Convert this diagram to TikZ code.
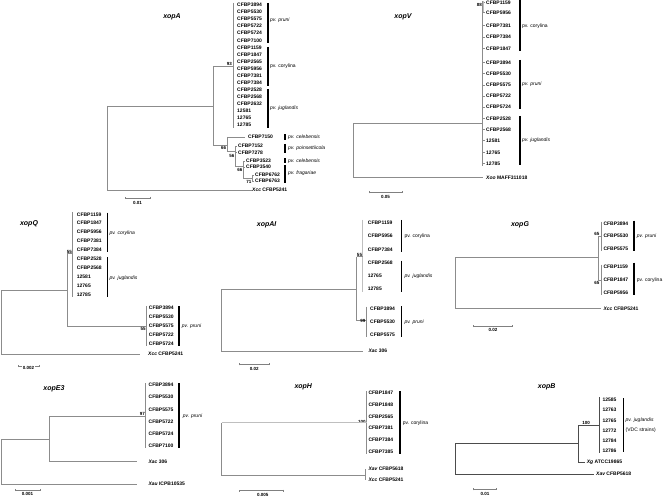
\documentclass[tikz,border=0pt]{standalone}
\usepackage{fontspec}
\setmainfont{Liberation Sans}
\usetikzlibrary{arrows.meta}
\newcommand\leafcol[5]{%
  \foreach \t [count=\i] in {#5} \node[leaf] (#1\i) at (#2, {#3+#4*(\i-1)}) {\t};}
\begin{document}
\begin{tikzpicture}[x=1pt,y=-1pt,
  br/.style={draw=black!45, line width=0.6pt},
  brd/.style={draw=black!70, line width=0.9pt},
  brl/.style={draw=black!25, line width=1.3pt},
  grp/.style={draw=black, line width=1.1pt},
  leaf/.style={anchor=west, inner sep=0pt, font=\fontsize{5}{6}\selectfont\bfseries},
  pvl/.style={anchor=west, inner sep=0pt, font=\fontsize{5}{6}\selectfont\itshape},
  pvu/.style={anchor=west, inner sep=0pt, font=\fontsize{5}{6}\selectfont},
  ttl/.style={inner sep=0pt, font=\fontsize{7}{8}\selectfont\bfseries\itshape},
  bsv/.style={inner sep=0pt, font=\fontsize{4.5}{5}\selectfont\bfseries},
  scl/.style={inner sep=0pt, font=\fontsize{4.5}{5}\selectfont\bfseries},
  sbar/.style={draw=black!50, line width=0.5pt, {Bar[width=2pt]}-{Bar[width=2pt]}}]
\useasboundingbox (0,0) rectangle (664,497);
\fill[white] (0,0) rectangle (664,497);

% ================= xopA =================
\node[ttl] (tA) at (172,17) {xopA};
\leafcol{A}{237}{5}{7.06}{CFBP3894,CFBP5530,CFBP5575,CFBP5722,CFBP5724,CFBP7100,CFBP1159,CFBP1847,CFBP2565,CFBP5956,CFBP7381,CFBP7384,CFBP2528,CFBP2568,CFBP2632,12581,12765,12785}
\coordinate (Ac) at (233,66);
\coordinate (An) at (213,106);
\coordinate (Ar) at (107,190);
\draw[br] (233,3) -- (233,128);
\draw[br] (Ac) -- (213,66) -- (213,145);
\draw[br] (Ar |- An) -- (An);
\draw[br] (Ar |- An) -- (Ar);
\node[leaf] (Axcc) at (252,190) {{\itshape Xcc} CFBP5241};
\draw[br] (Ar) -- (Axcc.west);
\node[bsv] (bA1) [anchor=south east] at (232,65.8) {93};
% lower clade
\draw[br] (213,145) -- (227,145);
\draw[br] (227,137) -- (227,151);
\node[leaf] (A7150) at (248,137) {CFBP7150};
\draw[br] (227,137) -- (245,137);
\node[bsv] (bA2) [anchor=east] at (226.3,147.5) {66};
\draw[br] (227,151) -- (235,151);
\draw[br] (235,146) -- (235,166);
\node[leaf] (A7152) at (238,146) {CFBP7152};
\node[leaf] (A7278) at (238,152.5) {CFBP7278};
\draw[br] (235,146) -- (237,146) (235,152.5) -- (237,152.5);
\node[bsv] (bA3) [anchor=east] at (234.5,155.5) {56};
\draw[br] (235,166) -- (243,166);
\draw[br] (243,161) -- (243,178);
\node[leaf] (A3523) at (246,161) {CFBP3523};
\node[leaf] (A3540) at (246,167) {CFBP3540};
\draw[br] (243,161) -- (245,161) (243,167) -- (245,167);
\node[bsv] (bA4) [anchor=east] at (242.5,169.5) {66};
\draw[br] (243,178) -- (252,178);
\draw[br] (252,175) -- (252,181);
\node[leaf] (A6762) at (255,175) {CFBP6762};
\node[leaf] (A6763) at (255,181) {CFBP6763};
\draw[br] (252,175) -- (254,175) (252,181) -- (254,181);
\node[bsv] (bA5) [anchor=east] at (251.5,181.5) {71};
% groups
\draw[grp] (268,3) -- (268,43);
\node[pvl] (gA1) at (270,20.5) {pv. pruni};
\draw[grp] (268,47) -- (268,86);
\node[pvu] (gA2) at (270,66) {pv. corylina};
\draw[grp] (268,89) -- (268,128);
\node[pvl] (gA3) at (270,108) {pv. juglandis};
\draw[grp] (285,134.5) -- (285,140.5);
\node[pvl] (gA4) at (288,137.5) {pv. celebensis};
\draw[grp] (285,144) -- (285,153);
\node[pvl] (gA5) at (288,148) {pv. poinsettiicola};
\draw[grp] (285,158.5) -- (285,163.5);
\node[pvl] (gA6) at (288,161) {pv. celebensis};
\draw[grp] (285,165.5) -- (285,183);
\node[pvl] (gA7) at (288,173) {pv. fragariae};
\draw[sbar] (125,198) -- (150,198);
\node[scl] (sA) at (137.5,202.5) {0.01};

% ================= xopV =================
\node[ttl] (tV) at (403,17) {xopV};
\foreach \t/\yy [count=\i] in {CFBP1159/2.5,CFBP5956/12.5,CFBP7381/25.3,CFBP7384/37,CFBP1847/48.7,CFBP3894/62.3,CFBP5530/73.3,CFBP5575/85,CFBP5722/96,CFBP5724/107,CFBP2528/118.3,CFBP2568/129.3,12581/140.7,12765/152.3,12785/163.7}{
  \node[leaf] (V\i) at (486,\yy) {\t};
  \draw[br] (482.7,\yy) -- (485,\yy);}
\draw[br] (482.7,1) -- (482.7,166);
\draw[brl] (483.8,1) -- (483.8,12.5);
\node[bsv] (bV1) [anchor=east] at (482,5) {88};
\coordinate (Vr) at (353.3,123.3);
\draw[br] (482.7,123.3) -- (Vr) -- (353.3,177.7) -- (483,177.7);
\node[leaf] (Vxoo) at (486,177.5) {{\itshape Xoo} MAFF311018};
\draw[grp] (520,0) -- (520,50.7);
\node[pvu] (gV1) at (522,26) {pv. corylina};
\draw[grp] (520,60) -- (520,109);
\node[pvl] (gV2) at (522,84) {pv. pruni};
\draw[grp] (520,116) -- (520,165);
\node[pvl] (gV3) at (522,140.7) {pv. juglandis};
\draw[sbar] (369,192.3) -- (402,192.3);
\node[scl] (sV) at (385.5,196.5) {0.05};

% ================= xopQ =================
\node[ttl] (tQ) at (29,224) {xopQ};
\leafcol{Q}{76.7}{214.3}{8.97}{CFBP1159,CFBP1847,CFBP5956,CFBP7381,CFBP7384,CFBP2528,CFBP2568,12581,12765,12785}
\draw[br] (72.7,212) -- (72.7,297);
\coordinate (Qn) at (67.7,253);
\draw[br] (Qn) -- (72.7,253);
\node[bsv] (bQ1) [anchor=east] at (72.2,251.5) {55};
\draw[br] (Qn) -- (67.7,326) -- (146.7,326);
\leafcol{QP}{148.7}{307.7}{9.1}{CFBP3894,CFBP5530,CFBP5575,CFBP5722,CFBP5724}
\draw[br] (146.7,306) -- (146.7,346);
\node[bsv] (bQ2) [anchor=east] at (145.8,328.5) {55};
\coordinate (Qr) at (1,290);
\draw[br] (67.7,290) -- (Qr) -- (1,354) -- (140,354);
\node[leaf] (Qxcc) at (148,354) {{\itshape Xcc} CFBP5241};
\draw[grp] (107.3,212.7) -- (107.3,251.7);
\node[pvl] (gQ1) at (109.3,233.3) {pv. corylina};
\draw[grp] (107.3,257) -- (107.3,297);
\node[pvl] (gQ2) at (109.3,278.3) {pv. juglandis};
\draw[grp] (179,306) -- (179,345.7);
\node[pvl] (gQ3) at (181.7,326) {pv. pruni};
\draw[sbar] (18,366) -- (39,366);
\node[scl, fill=white, inner xsep=0.5pt] (sQ) at (28.5,367.5) {0.002};

% ================= xopAI =================
\node[ttl] (tAI) at (266.7,225) {xopAI};
\leafcol{I}{367.7}{222.7}{13.3}{CFBP1159,CFBP5956,CFBP7384,CFBP2568,12765,12785}
\draw[brl] (362.7,220) -- (362.7,291.7);
\coordinate (In) at (356.7,289.3);
\draw[br] (356.7,256.7) -- (362.7,256.7);
\draw[br] (356.7,256.7) -- (356.7,320.7) -- (366,320.7);
\node[bsv] (bI1) [anchor=east] at (362.2,254.5) {55};
\leafcol{IP}{370}{308.3}{13.35}{CFBP3894,CFBP5530,CFBP5575}
\draw[br] (366,306.7) -- (366,337.3);
\node[bsv] (bI2) [anchor=south east] at (365.5,322.5) {99};
\draw[br] (In) -- (221.7,289.3) -- (221.7,351) -- (362.7,351);
\node[leaf] (Ixac) at (368.3,351) {{\itshape Xac} 306};
\draw[grp] (401.7,220) -- (401.7,251.7);
\node[pvu] (gI1) at (404.3,236.7) {pv. corylina};
\draw[grp] (401.7,260.7) -- (401.7,291.7);
\node[pvl] (gI2) at (404.3,276) {pv. juglandis};
\draw[grp] (401.7,306) -- (401.7,337.3);
\node[pvl] (gI3) at (404.3,322.7) {pv. pruni};
\draw[sbar] (239.3,364.3) -- (269.3,364.3);
\node[scl] (sI) at (254.3,368.7) {0.02};

% ================= xopG =================
\node[ttl] (tG) at (520,225) {xopG};
\leafcol{G}{603.3}{223.3}{12.85}{CFBP3894,CFBP5530,CFBP5575}
\draw[br] (601,221.7) -- (601,250.7);
\node[bsv] (bG1) [anchor=east] at (599.6,233.5) {65};
\leafcol{GC}{603.3}{266.7}{13}{CFBP1159,CFBP1847,CFBP5956}
\draw[br] (601,264.5) -- (601,295);
\node[bsv] (bG2) [anchor=east] at (599.6,282.7) {65};
\draw[br] (598.3,236) -- (598.3,280);
\draw[br] (598.3,236) -- (601,236) (598.3,280) -- (601,280);
\coordinate (Gr) at (455.7,257.3);
\draw[br] (598.3,257.3) -- (Gr) -- (455.7,308.3) -- (601,308.3);
\node[leaf] (Gxcc) at (603.3,308.3) {{\itshape Xcc} CFBP5241};
\draw[grp] (634,220.7) -- (634,250.7);
\node[pvl] (gG1) at (636.7,236) {pv. pruni};
\draw[grp] (634,262.7) -- (634,295);
\node[pvu] (gG2) at (636.7,280) {pv. corylina};
\draw[sbar] (473.3,326) -- (512.7,326);
\node[scl] (sG) at (493,330) {0.02};

% ================= xopE3 =================
\node[ttl] (tE) at (54,388.3) {xopE3};
\leafcol{E}{148.5}{385}{12.2}{CFBP3894,CFBP5530,CFBP5575,CFBP5722,CFBP5724,CFBP7100}
\draw[br] (145.7,383) -- (145.7,448);
\node[bsv] (bE1) [anchor=south east] at (145,415.8) {97};
\coordinate (En) at (49.3,416);
\draw[br] (145.7,416) -- (En) -- (49.3,461.7) -- (137,461.7);
\node[leaf] (Exac) at (148.3,461.7) {{\itshape Xac} 306};
\coordinate (Er) at (1,439.3);
\draw[br] (49.3,439.3) -- (Er) -- (1,484) -- (137,484);
\node[leaf] (Exau) at (148.3,484) {{\itshape Xau} ICPB10535};
\draw[grp] (179,383) -- (179,448);
\node[pvl] (gE1) at (182.7,416) {pv. pruni};
\draw[sbar] (15,490) -- (40,490);
\node[scl] (sE) at (27.5,494) {0.001};

% ================= xopH =================
\node[ttl] (tH) at (303.3,387.3) {xopH};
\leafcol{H}{368.3}{393}{11.7}{CFBP1847,CFBP1848,CFBP2565,CFBP7381,CFBP7384,CFBP7385}
\draw[br] (366.7,391) -- (366.7,454);
\node[bsv] (bH1) [anchor=south east] at (365.8,423.6) {100};
\coordinate (Hr) at (221.7,422.7);
\draw[brl] (366.7,422.7) -- (Hr);
\draw[br] (Hr) -- (221.7,475) -- (365.7,475);
\draw[br] (365.7,469) -- (365.7,480);
\node[leaf] (Hxav) at (368.3,469) {{\itshape Xav} CFBP5618};
\node[leaf] (Hxcc) at (368.3,480) {{\itshape Xcc} CFBP5241};
\draw[grp] (400,391) -- (400,454);
\node[pvu] (gH1) at (402.7,423.3) {pv. corylina};
\draw[sbar] (239,490.7) -- (283.3,490.7);
\node[scl] (sH) at (262.7,494.7) {0.005};

% ================= xopB =================
\node[ttl] (tB) at (546.7,387.3) {xopB};
\leafcol{B}{602.3}{400}{10.15}{12585,12763,12765,12772,12784,12786}
\draw[brd] (599,397) -- (599,453);
\coordinate (Bn) at (578.3,425);
\draw[brd] (599,425) -- (Bn) -- (578.3,462) -- (585,462);
\node[bsv] (bB1) [anchor=south east] at (590,424.6) {100};
\node[leaf] (Bxg) at (586.7,462) {{\itshape Xg} ATCC19865};
\coordinate (Br) at (455,443.3);
\draw[brd] (578.3,443.3) -- (Br) -- (455,474) -- (594,474);
\node[leaf] (Bxav) at (596,474) {{\itshape Xav} CFBP5618};
\draw[grp] (623.7,398) -- (623.7,452);
\node[pvl] (gB1) at (625.5,420) {pv. juglandis};
\node[pvu] (gB2) at (625.5,430.2) {(VDC strains)};
\draw[sbar] (473.3,489.3) -- (496,489.3);
\node[scl] (sB) at (485,494) {0.01};
\end{tikzpicture}
\end{document}
